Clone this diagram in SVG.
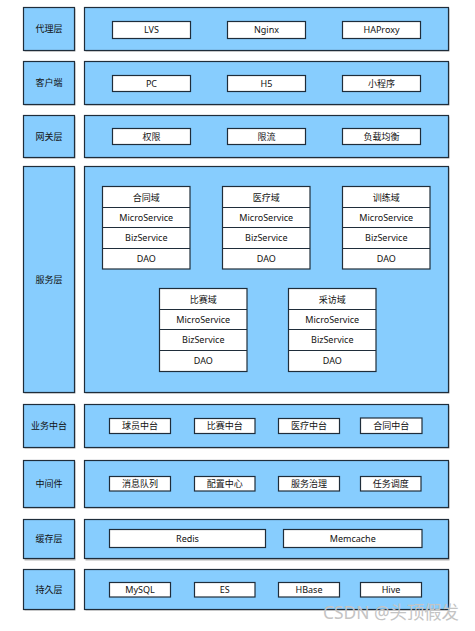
<svg xmlns="http://www.w3.org/2000/svg" width="475" height="631" viewBox="0 0 475 631">
<defs>
<style>
.lb{fill:#87CDFE;stroke:#1f2d3a;stroke-width:1.2}
.pn{fill:#87CDFE;stroke:#1f2d3a;stroke-width:1.2}
.bx{fill:#ffffff;stroke:#1f2d3a;stroke-width:1.2}
.sh{fill:#b4b4b4}
text{font-family:"Noto Sans","Noto Sans CJK SC",sans-serif;font-size:9px;fill:#111;text-anchor:middle}
.wm{font-size:18px;fill:#c4c4c4;text-anchor:start}
</style>
</defs>
<rect width="475" height="631" fill="#ffffff"/>

<!-- shadows -->
<g id="shadows" class="sh">
<rect x="24.5" y="8.5" width="51" height="43"/><rect x="85.5" y="8.5" width="364" height="43"/>
<rect x="24.5" y="62.5" width="51" height="43"/><rect x="85.5" y="62.5" width="364" height="43"/>
<rect x="24.5" y="116.5" width="51" height="42"/><rect x="85.5" y="116.5" width="364" height="42"/>
<rect x="24.5" y="167.5" width="51" height="226"/><rect x="85.5" y="167.5" width="364" height="226"/>
<rect x="24.5" y="405.5" width="51" height="43"/><rect x="85.5" y="405.5" width="364" height="43"/>
<rect x="24.5" y="461.5" width="51" height="47"/><rect x="85.5" y="461.5" width="364" height="47"/>
<rect x="24.5" y="520.5" width="51" height="40"/><rect x="85.5" y="520.5" width="364" height="40"/>
<rect x="24.5" y="570.5" width="51" height="40"/><rect x="85.5" y="570.5" width="364" height="40"/>
</g>

<g id="proxy">
<rect class="lb" x="23.5" y="7.5" width="51" height="43"/><text x="49" y="32">代理层</text>
<rect class="pn" x="84.5" y="7.5" width="364" height="43"/>
<rect class="bx" x="112.5" y="21.5" width="78" height="17"/><text x="151.5" y="33">LVS</text>
<rect class="bx" x="227.5" y="21.5" width="78" height="17"/><text x="266.5" y="33">Nginx</text>
<rect class="bx" x="342.5" y="21.5" width="78" height="17"/><text x="381.5" y="33">HAProxy</text>
</g>

<g id="client">
<rect class="lb" x="23.5" y="61.5" width="51" height="43"/><text x="49" y="86">客户端</text>
<rect class="pn" x="84.5" y="61.5" width="364" height="43"/>
<rect class="bx" x="112.5" y="75.5" width="78" height="16"/><text x="151.5" y="86.5">PC</text>
<rect class="bx" x="227.5" y="75.5" width="78" height="16"/><text x="266.5" y="86.5">H5</text>
<rect class="bx" x="342.5" y="75.5" width="78" height="16"/><text x="381.5" y="86.5">小程序</text>
</g>

<g id="gateway">
<rect class="lb" x="23.5" y="115.5" width="51" height="42"/><text x="49" y="139.5">网关层</text>
<rect class="pn" x="84.5" y="115.5" width="364" height="42"/>
<rect class="bx" x="112.5" y="128.5" width="78" height="16"/><text x="151.5" y="139.5">权限</text>
<rect class="bx" x="227.5" y="128.5" width="78" height="16"/><text x="266.5" y="139.5">限流</text>
<rect class="bx" x="342.5" y="128.5" width="78" height="16"/><text x="381.5" y="139.5">负载均衡</text>
</g>

<g id="service">
<rect class="lb" x="23.5" y="166.5" width="51" height="226"/><text x="49" y="282.5">服务层</text>
<rect class="pn" x="84.5" y="166.5" width="364" height="226"/>
</g>

<g id="domain-contract">
<rect class="bx" x="102.5" y="186.5" width="87.5" height="82.5"/>
<line class="bx" x1="102.5" y1="207.5" x2="190" y2="207.5"/><line class="bx" x1="102.5" y1="227.5" x2="190" y2="227.5"/><line class="bx" x1="102.5" y1="248.5" x2="190" y2="248.5"/>
<text x="146.25" y="200.5">合同域</text><text x="146.25" y="220.5">MicroService</text><text x="146.25" y="241">BizService</text><text x="146.25" y="262">DAO</text>
</g>
<g id="domain-medical">
<rect class="bx" x="222.5" y="186.5" width="87.5" height="82.5"/>
<line class="bx" x1="222.5" y1="207.5" x2="310" y2="207.5"/><line class="bx" x1="222.5" y1="227.5" x2="310" y2="227.5"/><line class="bx" x1="222.5" y1="248.5" x2="310" y2="248.5"/>
<text x="266.25" y="200.5">医疗域</text><text x="266.25" y="220.5">MicroService</text><text x="266.25" y="241">BizService</text><text x="266.25" y="262">DAO</text>
</g>
<g id="domain-training">
<rect class="bx" x="342.5" y="186.5" width="87.5" height="82.5"/>
<line class="bx" x1="342.5" y1="207.5" x2="430" y2="207.5"/><line class="bx" x1="342.5" y1="227.5" x2="430" y2="227.5"/><line class="bx" x1="342.5" y1="248.5" x2="430" y2="248.5"/>
<text x="386.25" y="200.5">训练域</text><text x="386.25" y="220.5">MicroService</text><text x="386.25" y="241">BizService</text><text x="386.25" y="262">DAO</text>
</g>
<g id="domain-match">
<rect class="bx" x="159.5" y="288.5" width="87.5" height="83"/>
<line class="bx" x1="159.5" y1="309.5" x2="247" y2="309.5"/><line class="bx" x1="159.5" y1="329.5" x2="247" y2="329.5"/><line class="bx" x1="159.5" y1="350.5" x2="247" y2="350.5"/>
<text x="203.25" y="302.5">比赛域</text><text x="203.25" y="322.5">MicroService</text><text x="203.25" y="343">BizService</text><text x="203.25" y="364">DAO</text>
</g>
<g id="domain-interview">
<rect class="bx" x="288.5" y="288.5" width="87.5" height="83"/>
<line class="bx" x1="288.5" y1="309.5" x2="376" y2="309.5"/><line class="bx" x1="288.5" y1="329.5" x2="376" y2="329.5"/><line class="bx" x1="288.5" y1="350.5" x2="376" y2="350.5"/>
<text x="332.25" y="302.5">采访域</text><text x="332.25" y="322.5">MicroService</text><text x="332.25" y="343">BizService</text><text x="332.25" y="364">DAO</text>
</g>

<g id="business">
<rect class="lb" x="23.5" y="404.5" width="51" height="43"/><text x="49" y="429">业务中台</text>
<rect class="pn" x="84.5" y="404.5" width="364" height="43"/>
<rect class="bx" x="109.5" y="418.5" width="61" height="15"/><text x="140" y="429">球员中台</text>
<rect class="bx" x="194.5" y="418.5" width="60.5" height="15"/><text x="224.75" y="429">比赛中台</text>
<rect class="bx" x="278.5" y="418.5" width="61" height="15"/><text x="309" y="429">医疗中台</text>
<rect class="bx" x="360.5" y="418" width="61.5" height="15.5"/><text x="391.25" y="429">合同中台</text>
</g>

<g id="middleware">
<rect class="lb" x="23.5" y="460.5" width="51" height="47"/><text x="49" y="487">中间件</text>
<rect class="pn" x="84.5" y="460.5" width="364" height="47"/>
<rect class="bx" x="109.5" y="476.5" width="61" height="14.5"/><text x="140" y="487">消息队列</text>
<rect class="bx" x="194.5" y="476.5" width="60.5" height="14.5"/><text x="224.75" y="487">配置中心</text>
<rect class="bx" x="278.5" y="476.5" width="61" height="14.5"/><text x="309" y="487">服务治理</text>
<rect class="bx" x="360.5" y="476.5" width="60.5" height="14.5"/><text x="390.75" y="487">任务调度</text>
</g>

<g id="cache">
<rect class="lb" x="23.5" y="519.5" width="51" height="39"/><text x="49" y="542">缓存层</text>
<rect class="pn" x="84.5" y="519.5" width="364" height="39"/>
<rect class="bx" x="109.5" y="529.5" width="156" height="18"/><text x="187.5" y="541.5">Redis</text>
<rect class="bx" x="283.5" y="529.5" width="138.5" height="18"/><text x="352.75" y="541.5">Memcache</text>
</g>

<g id="persistence">
<rect class="lb" x="23.5" y="569.5" width="51" height="40"/><text x="49" y="593">持久层</text>
<rect class="pn" x="84.5" y="569.5" width="364" height="40"/>
<rect class="bx" x="109.5" y="582.5" width="61" height="14.5"/><text x="140" y="593">MySQL</text>
<rect class="bx" x="194.5" y="582.5" width="60.5" height="14.5"/><text x="224.75" y="593">ES</text>
<rect class="bx" x="278.5" y="582.5" width="61" height="14.5"/><text x="309" y="593">HBase</text>
<rect class="bx" x="360.5" y="582.5" width="61" height="14.5"/><text x="391" y="593">Hive</text>
</g>

<g id="connectors"></g>

<text class="wm" x="323" y="619" textLength="136" lengthAdjust="spacingAndGlyphs">CSDN @头顶假发</text>
</svg>
